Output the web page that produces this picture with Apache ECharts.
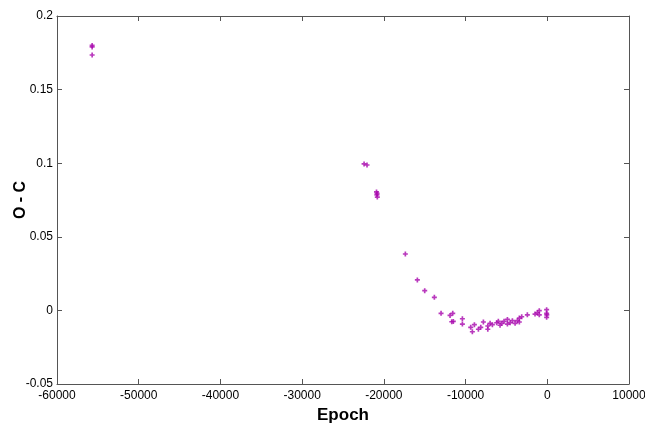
<!DOCTYPE html>
<html>
<head>
<meta charset="utf-8">
<script src="https://cdn.jsdelivr.net/npm/echarts@6/dist/echarts.min.js"></script>
<style>html,body{margin:0;padding:0;background:#fff}#c{width:645px;height:426px}</style>
</head>
<body>
<div id="c"></div>
<script>
const epoch = [-55700,-55700,-55700,-22420,-22060,-20900,-20830,-20850,-20800,-17370,-15900,-15000,-13820,-13000,-11900,-11570,-11690,-11500,-10390,-10390,-9370,-9170,-8920,-8430,-8140,-7820,-7280,-7280,-7000,-6720,-6190,-5990,-5780,-5570,-5290,-4880,-4880,-4550,-4270,-3940,-3660,-3420,-3420,-3130,-2440,-1500,-1220,-980,-980,-80,-80,-80,-60];
const oc = [0.180,0.179,0.1735,0.0995,0.0988,0.0805,0.0795,0.0785,0.077,0.0383,0.0207,0.0134,0.0089,-0.002,-0.0034,-0.002,-0.0077,-0.0075,-0.0057,-0.0093,-0.0115,-0.0145,-0.0097,-0.0128,-0.0115,-0.0079,-0.0128,-0.0106,-0.0088,-0.0097,-0.0084,-0.0074,-0.0101,-0.0088,-0.0074,-0.0061,-0.0093,-0.0084,-0.0070,-0.0088,-0.0070,-0.0052,-0.0079,-0.0043,-0.0030,-0.0025,-0.0016,-0.0002,-0.0030,0.0005,-0.0020,-0.0047,-0.0030];
const xLabel = 'Epoch';
const yLabel = 'O - C';

const data = epoch.map((e,i)=>[e, oc[i]]);
const axisCol = '#555';
const font = 'Liberation Sans, Arial, sans-serif';
const chart = echarts.init(document.getElementById('c'), null, {renderer:'canvas'});
const baseX = {type:'value', min:-60000, max:10000, interval:10000,
  axisLine:{show:true,onZero:false,lineStyle:{color:axisCol,width:1}},
  axisTick:{show:true,inside:true,length:5,lineStyle:{color:axisCol}},
  splitLine:{show:false}};
const baseY = {type:'value', min:-0.05, max:0.2, interval:0.05,
  axisLine:{show:true,onZero:false,lineStyle:{color:axisCol,width:1}},
  axisTick:{show:true,inside:true,length:5,lineStyle:{color:axisCol}},
  splitLine:{show:false}};
chart.setOption({
  animation:false,
  backgroundColor:'#fff',
  grid:{left:57,right:16,top:16,bottom:42,containLabel:false,outerBoundsMode:'none'},
  xAxis:[
    Object.assign({}, baseX, {position:'bottom', name:xLabel, nameLocation:'middle', nameGap:23,
      nameMoveOverlap:false,
      nameTextStyle:{fontFamily:font,fontSize:17,fontWeight:'bold',color:'#000'},
      axisLabel:{fontFamily:font,fontSize:12,color:'#000',margin:6,formatter:v=>String(v)}}),
    Object.assign({}, baseX, {position:'top', axisLabel:{show:false}})
  ],
  yAxis:[
    Object.assign({}, baseY, {position:'left', name:yLabel, nameLocation:'middle', nameGap:28, nameRotate:90,
      nameMoveOverlap:false,
      nameTextStyle:{fontFamily:font,fontSize:16,fontWeight:'bold',color:'#000'},
      axisLabel:{fontFamily:font,fontSize:12,color:'#000',margin:4,
        formatter:v=>String(Math.round(v*100)/100)}}),
    Object.assign({}, baseY, {position:'right', axisLabel:{show:false}})
  ],
  series:[{type:'scatter', xAxisIndex:0, yAxisIndex:0, data:data,
    symbol:'path://M1,0H2V1H3V2H2V3H1V2H0V1H1Z', symbolSize:5,
    itemStyle:{color:'#a808ac'}}]
});
</script>
</body>
</html>
